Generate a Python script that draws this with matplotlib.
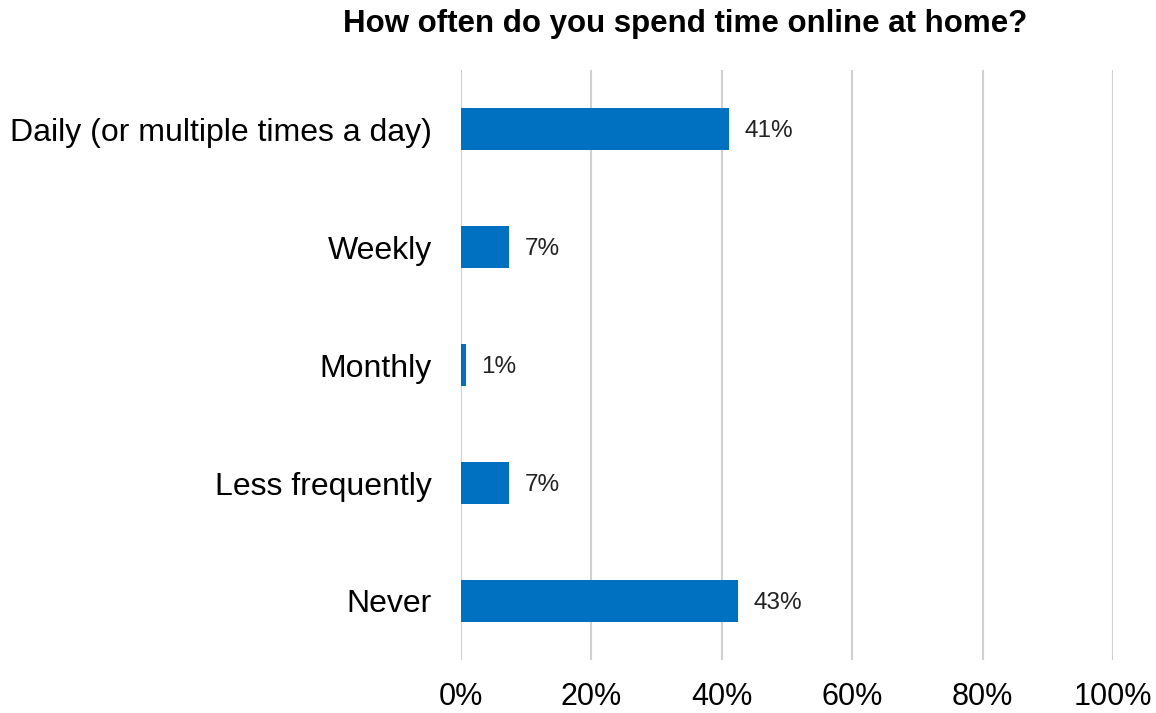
import matplotlib.pyplot as plt

categories = ["Daily (or multiple times a day)", "Weekly", "Monthly",
              "Less frequently", "Never"]
values = [41.1, 7.4, 0.7, 7.4, 42.5]
labels = ["41%", "7%", "1%", "7%", "43%"]
xticks = [0, 20, 40, 60, 80, 100]

plt.rcParams['font.family'] = ['Liberation Sans', 'DejaVu Sans']

fig = plt.figure(figsize=(11.56, 7.13), dpi=100)
ax = fig.add_axes([461 / 1156, 1 - 660 / 713, 652 / 1156, 590 / 713])

y = list(range(len(categories)))
ax.barh(y, values, height=0.35, color="#0070C0", zorder=3)
for yi, v, lab in zip(y, values, labels):
    ax.text(v + 2.4, yi + 0.02, lab, va="center", ha="left", fontsize=17.5, color="#222222")

ax.set_xlim(0, 100)
ax.set_ylim(len(categories) - 0.5, -0.5)
ax.set_xticks(xticks)
ax.set_xticklabels([f"{t}%" for t in xticks], fontsize=22)
ax.set_yticks(y)
ax.set_yticklabels(categories, fontsize=23)
ax.tick_params(axis="x", length=0, pad=16)
ax.tick_params(axis="y", length=0, pad=21)
ax.grid(axis="x", color="#d0d0d0", linewidth=1.5, zorder=0)
for s in ax.spines.values():
    s.set_visible(False)

fig.text(685 / 1156, 1 - 24 / 713, "How often do you spend time online at home?",
         ha="center", va="center", fontsize=22.5, fontweight="bold")

fig.savefig("out.png", dpi=100)
